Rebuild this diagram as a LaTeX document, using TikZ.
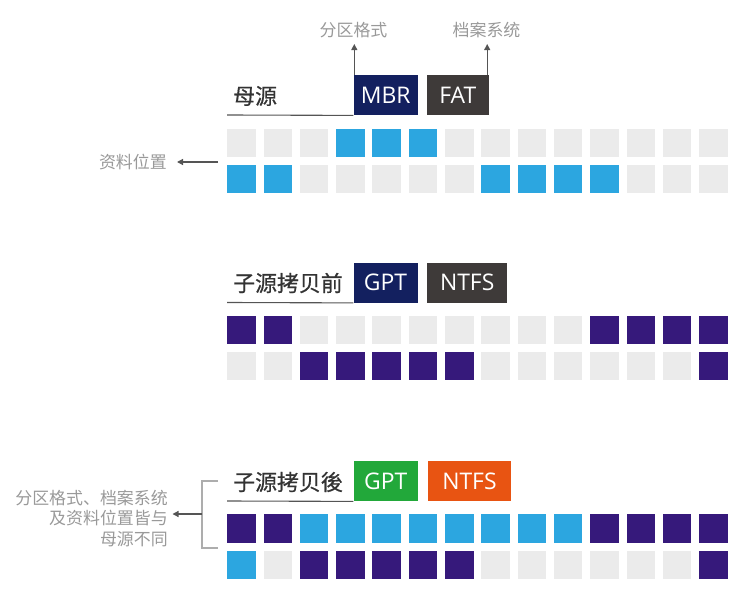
\documentclass[tikz,border=0pt]{standalone}
\usepackage{fontspec}
\setmainfont{Open Sans}
\newfontfamily\cjk{Noto Sans CJK SC}
\newfontfamily\cjkmed[FakeBold=0.6]{Noto Sans CJK SC}
\usetikzlibrary{arrows.meta,calc,positioning}
\definecolor{gy}{HTML}{EBEBEB}
\definecolor{bl}{HTML}{2CA6E0}
\definecolor{pu}{HTML}{36197B}
\definecolor{navy}{HTML}{13205F}
\definecolor{boxgray}{HTML}{3E3A39}
\definecolor{boxgreen}{HTML}{22A83A}
\definecolor{boxorange}{HTML}{E85412}
\definecolor{notegray}{HTML}{999999}
\definecolor{titlegray}{HTML}{333333}
\definecolor{rulegray}{HTML}{555555}
\tikzset{
	cell/.style={anchor=north west,inner sep=0pt,minimum size=28.5bp,draw=none},
	tag/.style={anchor=north west,inner sep=0pt,minimum height=40bp,text=white,
		font=\fontsize{23}{24}\selectfont},
	title/.style={anchor=west,inner sep=0pt,text=titlegray,
		font=\cjkmed\fontsize{22}{23}\selectfont},
	note/.style={inner sep=0pt,text=notegray,font=\cjk\fontsize{17}{21}\selectfont},
	base rule/.style={draw=rulegray,line width=1.1bp},
	bracket/.style={draw=notegray!80,line width=1.2bp},
	callout/.style={draw=rulegray,line width=1.2bp,-{Triangle[length=6bp,width=6bp]}}
}
\begin{document}
\begin{tikzpicture}[x=1bp,y=-1bp]
  \useasboundingbox (0,0) rectangle (742,603);
  % source disk
  \node[tag,fill=navy,minimum width=64.4bp] (mbr) at (353.3,75) {MBR};
  \node[tag,fill=boxgray,minimum width=61.3bp] (fat) at (427,75) {FAT};
  \node[title] (srcname) at (233,96) {母源};
  \coordinate (srcrule) at (227,115);
  \draw[base rule] (srcrule) -- (mbr.south west);
  \node[note] (partlbl) at (353.5,30) {分区格式};
  \node[note] (fslbl) at (486.5,30) {档案系统};
  \draw[callout,shorten >=6bp] ([xshift=1bp]mbr.north west) -- ([xshift=1bp]mbr.north west |- partlbl.south);
  \draw[callout,shorten >=6bp] ([xshift=-1.5bp]fat.north east) -- ([xshift=-1.5bp]fat.north east |- fslbl.south);
  \foreach \c [count=\i from 0] in {gy,gy,gy,bl,bl,bl,gy,gy,gy,gy,gy,gy,gy,gy}
    \node[cell,fill=\c] (src1c\i) at (227+\i*36.3,128.5) {};
  \foreach \c [count=\i from 0] in {bl,bl,gy,gy,gy,gy,gy,bl,bl,bl,bl,gy,gy,gy}
    \node[cell,fill=\c] (src2c\i) at (227+\i*36.3,164.5) {};
  \node[note,anchor=east] (loclbl) at (167,162) {资料位置};
  \coordinate (locarrow) at (218,162);
  \draw[callout,shorten >=10bp] (locarrow) -- (loclbl.east);

  % clone before
  \node[tag,fill=navy,minimum width=64bp] (gptpre) at (353.3,262.5) {GPT};
  \node[tag,fill=boxgray,minimum width=80bp] (ntfspre) at (427,262.5) {NTFS};
  \node[title] (prename) at (233,283) {子源拷贝前};
  \coordinate (prerule) at (227,302.5);
  \draw[base rule] (prerule) -- (gptpre.south west);
  \foreach \c [count=\i from 0] in {pu,pu,gy,gy,gy,gy,gy,gy,gy,gy,pu,pu,pu,pu}
    \node[cell,fill=\c] (pre1c\i) at (227+\i*36.3,315.5) {};
  \foreach \c [count=\i from 0] in {gy,gy,pu,pu,pu,pu,pu,gy,gy,gy,gy,gy,gy,pu}
    \node[cell,fill=\c] (pre2c\i) at (227+\i*36.3,351.5) {};

  % clone after
  \node[tag,fill=boxgreen,minimum width=64.4bp] (gptpost) at (353.3,461) {GPT};
  \node[tag,fill=boxorange,minimum width=83.5bp] (ntfspost) at (427.5,461) {NTFS};
  \node[title] (postname) at (233,482) {子源拷贝後};
  \coordinate (postrule) at (227,501);
  \draw[base rule] (postrule) -- (gptpost.south west);
  \foreach \c [count=\i from 0] in {pu,pu,bl,bl,bl,bl,bl,bl,bl,bl,pu,pu,pu,pu}
    \node[cell,fill=\c] (post1c\i) at (227+\i*36.3,514) {};
  \foreach \c [count=\i from 0] in {bl,gy,pu,pu,pu,pu,pu,gy,gy,gy,gy,gy,gy,pu}
    \node[cell,fill=\c] (post2c\i) at (227+\i*36.3,550.5) {};
  \node[note,anchor=east,align=right] (difflbl) at (168,518.5)
    {分区格式、档案系统\\及资料位置皆与\\母源不同};
  \draw[bracket] (218,481) -| (202,548) -- (218,548);
  \coordinate (diffarrow) at (202,514);
  \draw[callout,shorten >=4.5bp] (diffarrow) -- (difflbl.east |- diffarrow);
\end{tikzpicture}
\end{document}
